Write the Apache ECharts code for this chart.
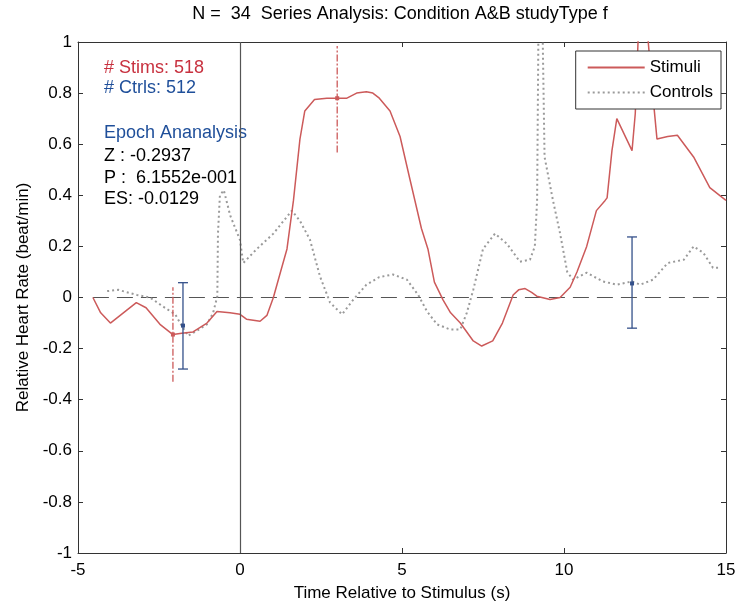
<!DOCTYPE html>
<html><head><meta charset="utf-8">
<script src="https://cdn.jsdelivr.net/npm/echarts@6/dist/echarts.min.js"></script>
<style>html,body{margin:0;padding:0;background:#fff}#c{width:740px;height:607px}</style>
</head><body><div id="c"></div>
<script>
// ---- data ----
const stimTime = [-4.54,-4.3,-4.0,-3.6,-3.2,-2.9,-2.47,-2.07,-1.8,-1.45,-1.02,-0.71,-0.31,0,0.2,0.62,0.83,1.03,1.25,1.45,1.65,1.85,2.0,2.3,2.68,3.0,3.3,3.6,3.9,4.1,4.3,4.63,4.94,5.25,5.6,5.8,6.0,6.27,6.5,6.8,7.2,7.46,7.8,8.1,8.43,8.6,8.8,9.0,9.16,9.57,9.88,10.19,10.4,10.7,11.0,11.27,11.33,11.48,11.63,12.1,12.2,12.3,12.5,12.7,12.87,13.2,13.5,14.0,14.5,14.9,15];
const stimValues = [0,-0.06,-0.10,-0.06,-0.02,-0.04,-0.105,-0.145,-0.14,-0.135,-0.10,-0.055,-0.06,-0.066,-0.085,-0.093,-0.07,0,0.10,0.19,0.38,0.62,0.73,0.775,0.78,0.78,0.78,0.80,0.805,0.80,0.78,0.73,0.63,0.46,0.27,0.19,0.06,-0.01,-0.06,-0.10,-0.17,-0.19,-0.17,-0.10,0.01,0.03,0.035,0.02,0.005,-0.008,0,0.04,0.10,0.20,0.34,0.38,0.39,0.575,0.70,0.575,0.72,1.05,1.15,0.85,0.62,0.63,0.635,0.55,0.43,0.39,0.38];
const ctrlTime = [-4.1,-3.76,-3.18,-2.78,-2.38,-2.0,-1.8,-1.6,-1.33,-1.02,-0.83,-0.7,-0.68,-0.62,-0.5,-0.3,0,0.1,0.52,1.03,1.6,1.85,2.16,2.47,2.78,3.15,3.5,3.9,4.3,4.72,5.15,5.5,5.77,6.08,6.48,6.8,7.0,7.2,7.5,7.87,8.24,8.64,8.95,9.1,9.17,9.22,9.32,9.4,9.66,9.88,10.1,10.28,10.7,11.2,11.63,12.1,12.35,12.75,13.2,13.7,14.0,14.3,14.6,14.8];
const ctrlValues = [0.025,0.03,0.01,0,-0.035,-0.066,-0.11,-0.15,-0.13,-0.105,-0.06,0.005,0.25,0.40,0.42,0.32,0.225,0.135,0.19,0.25,0.34,0.30,0.226,0.082,-0.02,-0.066,-0.008,0.05,0.08,0.09,0.07,0.01,-0.054,-0.105,-0.125,-0.125,-0.06,0.03,0.19,0.25,0.21,0.14,0.148,0.2,0.38,1.2,1.2,0.55,0.38,0.25,0.1,0.07,0.097,0.063,0.05,0.063,0.05,0.07,0.135,0.148,0.2,0.175,0.116,0.116];
// error bars: [time, low, high, centre]
const stimErrors = [[-2.07,-0.33,0.04,-0.145],[3.0,0.568,0.984,0.78]];
const ctrlErrors = [[-1.76,-0.28,0.058,-0.11],[12.1,-0.12,0.237,0.055]];
const zeroLine = [[-4.54,0],[15,0]];
const xTicks = {min:-5,max:15,interval:5};
const yTicks = {min:-1,max:1,interval:0.2};
const titleText = 'N =  34  Series Analysis: Condition A&B studyType f';
const infoLines = ['# Stims: 518','# Ctrls: 512','Epoch Ananalysis','Z : -0.2937','P :  6.1552e-001','ES: -0.0129'];

const RED = '#cc5a5a', GRAY = '#9a9a9a', BLUE = '#34508a';
const FONT = 'Liberation Sans, Arial, sans-serif';
const FS = 17;
const zip = (a,b)=>a.map((v,i)=>[v,b[i]]);

function errRender(color, dash, cap){
  return function(params, api){
    const x = api.value(0);
    const lo = api.coord([x, api.value(1)]);
    const hi = api.coord([x, api.value(2)]);
    const c = api.coord([x, api.value(3)]);
    const st = {stroke: color, lineWidth: 1.3, lineDash: dash};
    const ch = [{type:'line', shape:{x1:lo[0],y1:lo[1],x2:hi[0],y2:hi[1]}, style: st}];
    if (cap) {
      ch.push({type:'line', shape:{x1:lo[0]-cap,y1:lo[1],x2:lo[0]+cap,y2:lo[1]}, style:{stroke:color,lineWidth:1.3}});
      ch.push({type:'line', shape:{x1:hi[0]-cap,y1:hi[1],x2:hi[0]+cap,y2:hi[1]}, style:{stroke:color,lineWidth:1.3}});
    }
    ch.push({type:'rect', shape:{x:c[0]-2,y:c[1]-2,width:4,height:4}, style:{fill:color}});
    return {type:'group', children: ch};
  };
}

const chart = echarts.init(document.getElementById('c'));
const axisTxt = {color:'#000', fontSize:FS, fontFamily: FONT};
const txt = (t, y, color) => ({type:'text', x:104, y:y, style:{text:t, font:'18px '+FONT, fill:color, textVerticalAlign:'middle'}});
chart.setOption({
  animation:false,
  backgroundColor:'#fff',
  grid:{left:78, right:14, top:42, bottom:51},
  xAxis:[
    {type:'value', min:xTicks.min, max:xTicks.max, interval:xTicks.interval, position:'bottom',
     name:'Time Relative to Stimulus (s)', nameLocation:'middle', nameGap:32,
     nameTextStyle:axisTxt,
     axisLine:{onZero:false, lineStyle:{color:'#333', width:1}},
     axisTick:{inside:true, length:5, lineStyle:{color:'#333'}},
     axisLabel:Object.assign({margin:9}, axisTxt), splitLine:{show:false}},
    {type:'value', min:xTicks.min, max:xTicks.max, interval:xTicks.interval, position:'top',
     axisLine:{onZero:false, lineStyle:{color:'#333', width:1}},
     axisTick:{inside:true, length:5, lineStyle:{color:'#333'}},
     axisLabel:{show:false}, splitLine:{show:false}}
  ],
  yAxis:[
    {type:'value', min:yTicks.min, max:yTicks.max, interval:yTicks.interval, position:'left',
     name:'Relative Heart Rate (beat/min)', nameLocation:'middle', nameGap:46,
     nameTextStyle:axisTxt,
     axisLine:{show:true, onZero:false, lineStyle:{color:'#333', width:1}},
     axisTick:{show:true, inside:true, length:5, lineStyle:{color:'#333'}},
     axisLabel:Object.assign({margin:6}, axisTxt), splitLine:{show:false}},
    {type:'value', min:yTicks.min, max:yTicks.max, interval:yTicks.interval, position:'right',
     axisLine:{show:true, onZero:false, lineStyle:{color:'#333', width:1}},
     axisTick:{show:true, inside:true, length:5, lineStyle:{color:'#333'}},
     axisLabel:{show:false}, splitLine:{show:false}}
  ],
  legend:{
    orient:'vertical', right:19, top:51,
    backgroundColor:'#fff', borderColor:'#333', borderWidth:1,
    padding:[8,8,8,11], itemGap:8, itemWidth:57, itemHeight:14,
    itemStyle:{opacity:0},
    textStyle:{color:'#000', fontSize:FS, fontFamily:FONT},
    data:['Stimuli','Controls']
  },
  graphic:[
    {type:'text', x:400, y:14, style:{text:titleText, font:'18px '+FONT, fill:'#000', textAlign:'center', textVerticalAlign:'middle'}},
    txt(infoLines[0], 68, '#c8313f'),
    txt(infoLines[1], 88, '#1f4f9a'),
    txt(infoLines[2], 133, '#1f4f9a'),
    txt(infoLines[3], 156, '#000'),
    txt(infoLines[4], 178, '#000'),
    txt(infoLines[5], 199, '#000')
  ],
  series:[
    {name:'zero', type:'line', data:zeroLine, symbol:'none', silent:true,
     lineStyle:{color:'#555', width:1.2, type:[16,8]}, z:1},
    {name:'t0', type:'line', data:[], symbol:'none', silent:true,
     markLine:{silent:true, symbol:'none', label:{show:false},
       lineStyle:{color:'#555', type:'solid', width:1.2},
       data:[{xAxis:0}]}},
    {name:'Stimuli', type:'line', data:zip(stimTime, stimValues), symbol:'none', showSymbol:false,
     itemStyle:{color:RED}, lineStyle:{color:RED, width:1.5}, z:3},
    {name:'Controls', type:'line', data:zip(ctrlTime, ctrlValues), symbol:'none', showSymbol:false,
     itemStyle:{color:GRAY}, lineStyle:{color:GRAY, width:2, type:[2,3]}, z:2},
    {name:'stimErr', type:'custom', data:stimErrors, renderItem:errRender(RED,[7,2,2,2],0), z:4},
    {name:'ctrlErr', type:'custom', data:ctrlErrors, renderItem:errRender(BLUE,null,5), z:4}
  ]
});
</script></body></html>
